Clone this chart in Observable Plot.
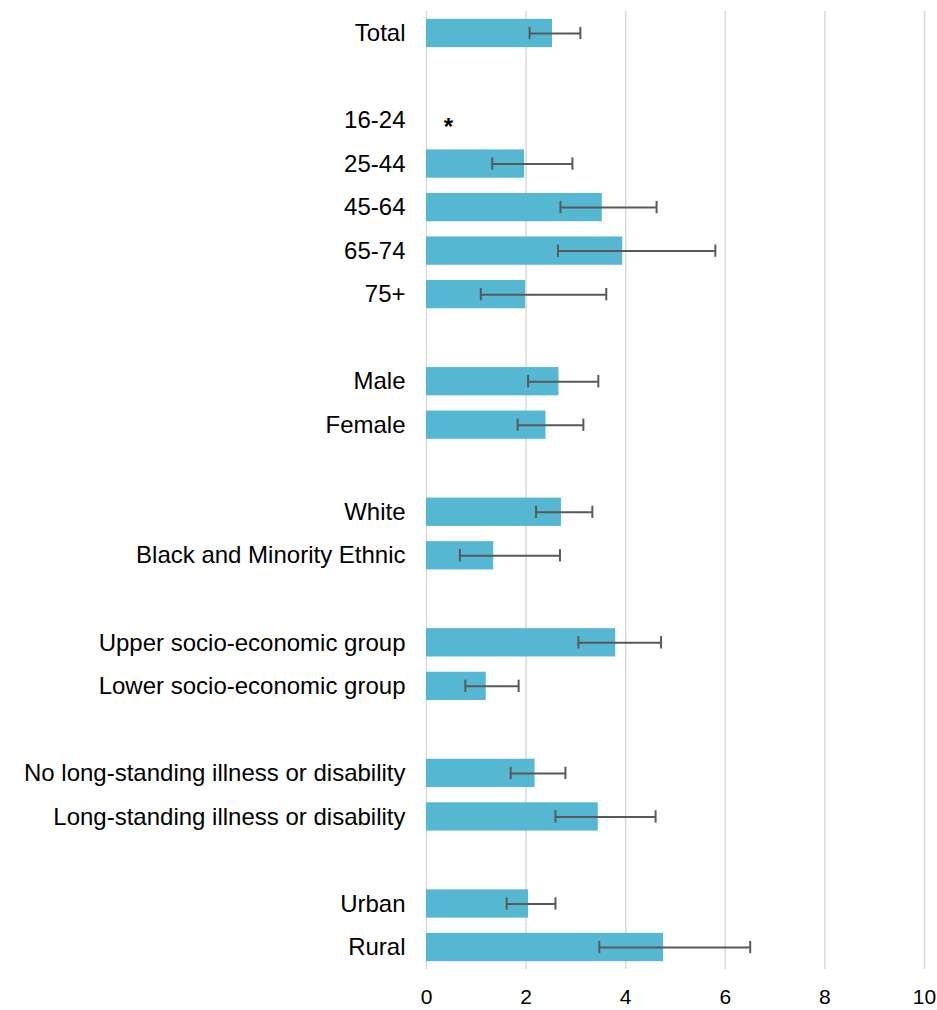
<!DOCTYPE html>
<html>
<head>
<meta charset="utf-8">
<script src="https://cdn.jsdelivr.net/npm/d3@7"></script>
<script src="https://cdn.jsdelivr.net/npm/@observablehq/plot@0.6"></script>
<style>
  html, body { margin: 0; padding: 0; background: #fff; }
  #chart svg { display: block; }
</style>
</head>
<body>
<div id="chart"></div>
<script>
// Row order (gaps are blank separator rows)
const rows = ["Total", "gap1", "16-24", "25-44", "45-64", "65-74", "75+", "gap2",
  "Male", "Female", "gap3", "White", "Black and Minority Ethnic", "gap4",
  "Upper socio-economic group", "Lower socio-economic group", "gap5",
  "No long-standing illness or disability", "Long-standing illness or disability", "gap6",
  "Urban", "Rural"];

const categories = ["Total", "16-24", "25-44", "45-64", "65-74", "75+",
  "Male", "Female", "White", "Black and Minority Ethnic",
  "Upper socio-economic group", "Lower socio-economic group",
  "No long-standing illness or disability", "Long-standing illness or disability",
  "Urban", "Rural"];

const values = [2.53, null, 1.97, 3.53, 3.94, 1.99, 2.66, 2.40, 2.71, 1.35, 3.80, 1.20, 2.18, 3.45, 2.05, 4.76];
const lower  = [2.07, null, 1.32, 2.69, 2.64, 1.09, 2.04, 1.83, 2.20, 0.67, 3.05, 0.78, 1.69, 2.59, 1.61, 3.47];
const upper  = [3.09, null, 2.93, 4.62, 5.80, 3.61, 3.45, 3.15, 3.33, 2.68, 4.71, 1.85, 2.79, 4.60, 2.59, 6.50];

// Categories whose value is suppressed (marked with an asterisk)
const suppressed = ["16-24"];

const xTicks = [0, 2, 4, 6, 8, 10];

const data = categories.map((c, i) => ({category: c, value: values[i], lo: lower[i], hi: upper[i]}))
  .filter(d => d.value != null);
const notes = suppressed.map(c => ({category: c, x: 0, label: "*"}));

const chart = Plot.plot({
  width: 937,
  height: 1010,
  marginLeft: 426,
  marginRight: 13,
  marginTop: 11,
  marginBottom: 41,
  style: {fontFamily: "'Liberation Sans', Arial, sans-serif", fontSize: "24px", color: "#000", background: "#fff"},
  x: {domain: [0, 10], label: null},
  y: {domain: rows, paddingInner: 0.35, paddingOuter: 0.18, round: false, label: null},
  marks: [
    Plot.gridX(xTicks, {stroke: "#d9d9d9", strokeOpacity: 1, strokeWidth: 1.5}),
    Plot.axisX(xTicks, {tickSize: 0, tickPadding: 20, fontSize: 21, label: null}),
    Plot.axisY(categories, {tickSize: 0, tickPadding: 21, fontSize: 24, label: null}),
    Plot.barX(data, {y: "category", x: "value", fill: "#56B7D3"}),
    Plot.ruleY(data, {y: "category", x1: "lo", x2: "hi", stroke: "#595959", strokeWidth: 2}),
    Plot.tickX(data, {y: "category", x: "lo", stroke: "#595959", strokeWidth: 2, insetTop: 8, insetBottom: 8}),
    Plot.tickX(data, {y: "category", x: "hi", stroke: "#595959", strokeWidth: 2, insetTop: 8, insetBottom: 8}),
    Plot.text(notes, {y: "category", x: "x", text: "label", dx: 22, dy: 6.5, fontSize: 24, fontWeight: "bold", fill: "#000"})
  ]
});
document.getElementById("chart").appendChild(chart);
</script>
</body>
</html>
